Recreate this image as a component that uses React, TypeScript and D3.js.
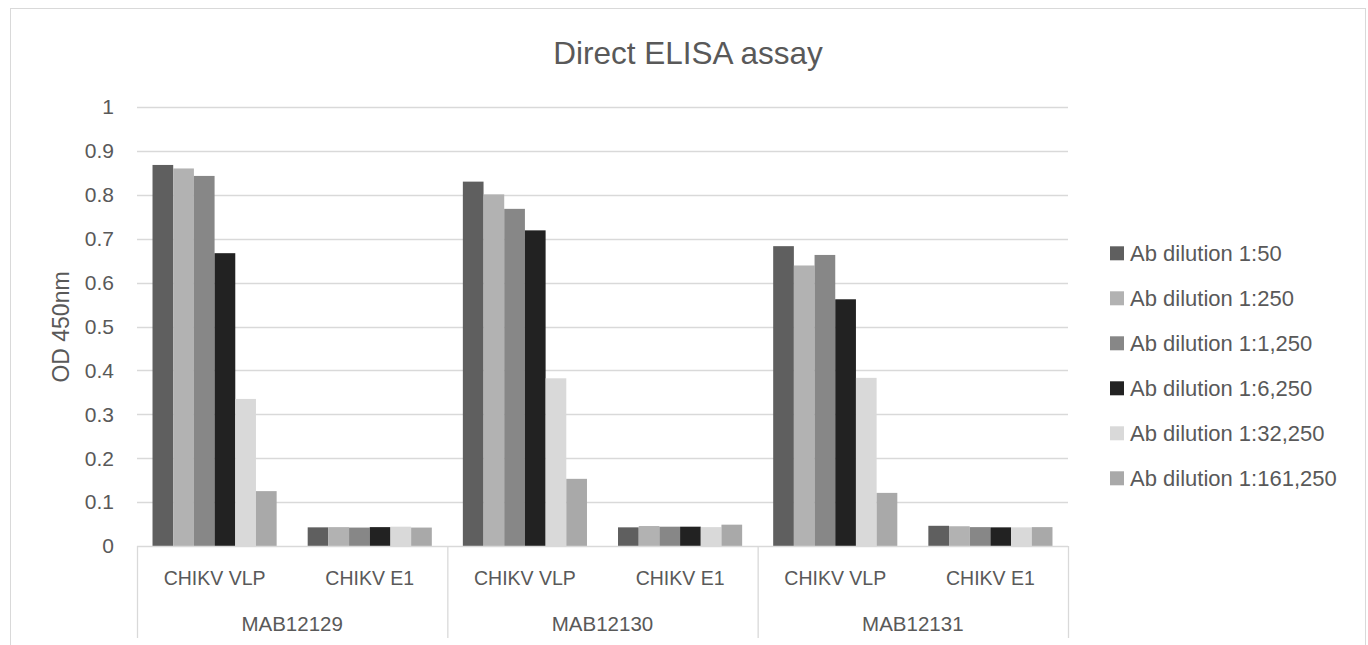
import React from "react";
import * as d3 from "d3";

const groups = ["MAB12129", "MAB12130", "MAB12131"];
const antigens = ["CHIKV VLP", "CHIKV E1"];
const seriesNames = [
  "Ab dilution 1:50",
  "Ab dilution 1:250",
  "Ab dilution 1:1,250",
  "Ab dilution 1:6,250",
  "Ab dilution 1:32,250",
  "Ab dilution 1:161,250",
];
const seriesColors = ["#5f5f5f", "#b2b2b2", "#878787", "#222222", "#d9d9d9", "#a9a9a9"];
// values per series, in order: MAB12129 VLP, E1, MAB12130 VLP, E1, MAB12131 VLP, E1
const dil50 = [0.868, 0.0425, 0.83, 0.0425, 0.683, 0.046];
const dil250 = [0.86, 0.043, 0.801, 0.0455, 0.639, 0.045];
const dil1250 = [0.843, 0.042, 0.768, 0.044, 0.663, 0.043];
const dil6250 = [0.667, 0.043, 0.719, 0.044, 0.562, 0.0425];
const dil32250 = [0.335, 0.044, 0.382, 0.043, 0.383, 0.0425];
const dil161250 = [0.125, 0.042, 0.153, 0.0486, 0.121, 0.043];
const seriesValues = [dil50, dil250, dil1250, dil6250, dil32250, dil161250];
const yTicks = [0, 0.1, 0.2, 0.3, 0.4, 0.5, 0.6, 0.7, 0.8, 0.9, 1];

const W = 1368;
const H = 645;
const FONT = "'Liberation Sans', Arial, sans-serif";
const TXT = "#595959";
const GRID = "#d9d9d9";

export default function App() {
  const cats: string[] = [];
  groups.forEach((g) => antigens.forEach((a) => cats.push(g + "|" + a)));

  const x0 = d3.scaleBand<string>().domain(cats).range([137, 1068]).paddingInner(0).paddingOuter(0);
  const x1 = d3
    .scaleBand<number>()
    .domain(d3.range(seriesNames.length))
    .range([0, x0.bandwidth()])
    .paddingInner(0)
    .paddingOuter(0.75);
  const xg = d3.scaleBand<string>().domain(groups).range([137, 1068]).padding(0);
  const y = d3.scaleLinear().domain([0, 1]).range([546, 107]);
  const fmt = (v: number) => (v === 0 || v === 1 ? String(v) : d3.format(".1f")(v));

  return (
    <svg width={W} height={H} style={{ position: "absolute", left: 0, top: 0, background: "#fff" }}>
      <rect x={10.5} y={8.5} width={1355} height={700} fill="#fff" stroke={GRID} strokeWidth={1} />
      <text x={688} y={64} textAnchor="middle" fontFamily={FONT} fontSize={31.5} fill={TXT}>
        Direct ELISA assay
      </text>
      {yTicks.map((t) => (
        <g key={t}>
          {t > 0 && (
            <line x1={137} x2={1068} y1={Math.round(y(t)) + 0.5} y2={Math.round(y(t)) + 0.5} stroke={GRID} strokeWidth={1.3} />
          )}
          <text x={114} y={y(t)} dy="0.35em" textAnchor="end" fontFamily={FONT} fontSize={21} fill={TXT}>
            {fmt(t)}
          </text>
        </g>
      ))}
      <text
        transform={`translate(61,327) rotate(-90)`}
        textAnchor="middle"
        dy="0.35em"
        fontFamily={FONT}
        fontSize={23}
        fill={TXT}
      >
        OD 450nm
      </text>
      {seriesValues.map((vals, si) =>
        vals.map((v, ci) => (
          <rect
            key={si + "-" + ci}
            x={(x0(cats[ci]) as number) + (x1(si) as number)}
            y={y(v)}
            width={x1.bandwidth()}
            height={y(0) - y(v)}
            fill={seriesColors[si]}
          />
        ))
      )}
      <line x1={137} x2={1068} y1={546.5} y2={546.5} stroke={GRID} strokeWidth={1.3} />
      {[...groups.map((g) => xg(g) as number), 1068].map((xx, i) => (
        <line key={i} x1={xx + 0.5} x2={xx + 0.5} y1={546} y2={638} stroke={GRID} strokeWidth={1.3} />
      ))}
      {cats.map((c) => (
        <text
          key={c}
          x={(x0(c) as number) + x0.bandwidth() / 2}
          y={585}
          textAnchor="middle"
          fontFamily={FONT}
          fontSize={19.5}
          fill={TXT}
        >
          {c.split("|")[1]}
        </text>
      ))}
      {groups.map((g) => (
        <text
          key={g}
          x={(xg(g) as number) + xg.bandwidth() / 2}
          y={631}
          textAnchor="middle"
          fontFamily={FONT}
          fontSize={20.5}
          fill={TXT}
        >
          {g}
        </text>
      ))}
      {seriesNames.map((s, i) => (
        <g key={s} transform={`translate(1110,${253.3 + i * 45})`}>
          <rect x={0} y={-7} width={14} height={14} fill={seriesColors[i]} />
          <text x={20} y={0} dy="0.35em" fontFamily={FONT} fontSize={22} fill={TXT}>
            {s}
          </text>
        </g>
      ))}
    </svg>
  );
}
